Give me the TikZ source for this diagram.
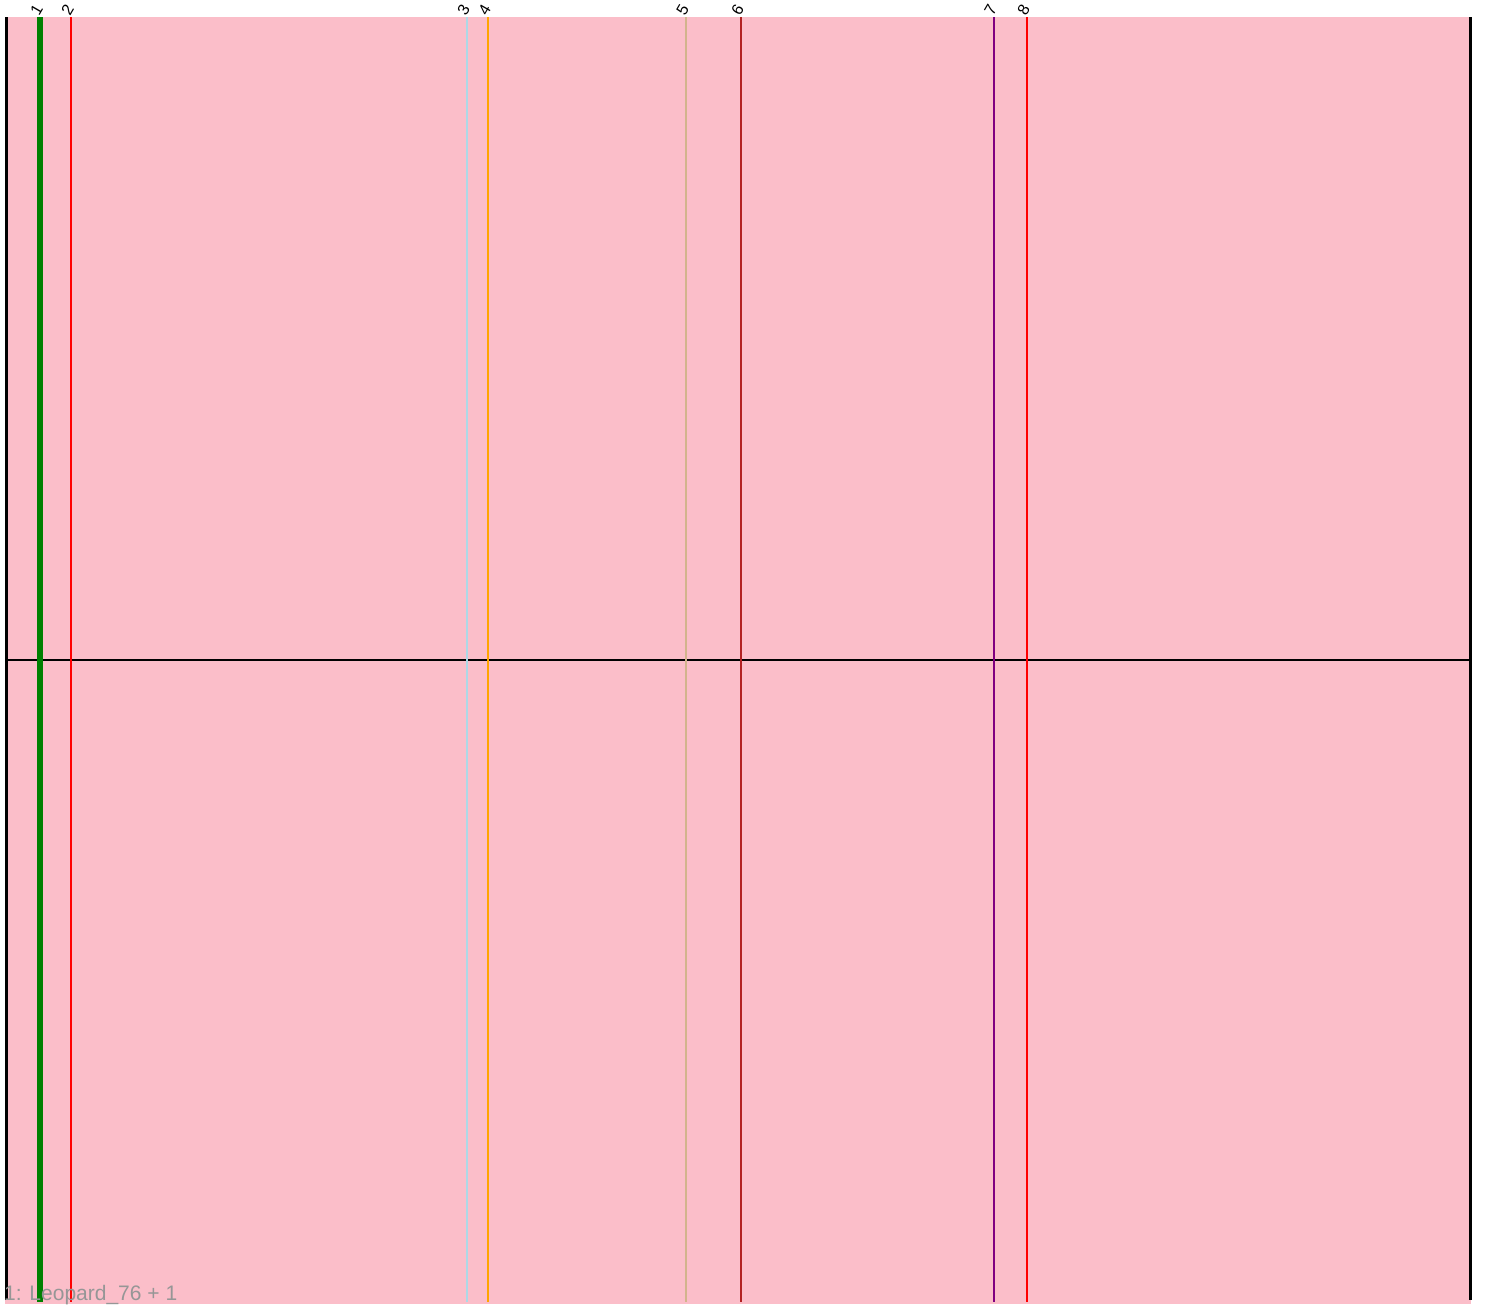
\documentclass[tikz,border=0pt]{standalone}
\usepackage{fontspec}
\setmainfont{Liberation Sans}
\definecolor{bgpink}{RGB}{251,190,201}
\definecolor{lgreen}{RGB}{0,128,0}
\definecolor{lred}{RGB}{255,0,0}
\definecolor{lblue}{RGB}{173,216,230}
\definecolor{lorange}{RGB}{255,165,0}
\definecolor{ltan}{RGB}{210,180,140}
\definecolor{lbrown}{RGB}{178,34,34}
\definecolor{lpurple}{RGB}{128,0,128}
\definecolor{capgray}{RGB}{150,150,150}
\tikzset{
  lbl/.style={rotate=60,anchor=base west,inner sep=0pt,font=\fontsize{16}{16}\selectfont},
}
\begin{document}
\begin{tikzpicture}[x=1pt,y=-1pt]
\useasboundingbox (0,0) rectangle (1486,1304);
\fill[bgpink] (5,17) rectangle (1471,1304);
\coordinate (bl) at (6,17);
\coordinate (bl2) at (6,1300);
\coordinate (br) at (1470,17);
\coordinate (br2) at (1470,1300);
\draw[line width=3pt] (bl) -- (bl2);
\draw[line width=3pt] (br) -- (br2);
\coordinate (hl) at (6,660);
\coordinate (hr) at (1470,660);
\draw[line width=2.8pt] (hl) -- (hr);
\foreach \n/\x/\c/\w in {1/40/lgreen/6,2/71/lred/2.8,3/467/lblue/2.8,4/488/lorange/2.8,5/686/ltan/2.8,6/741/lbrown/2.8,7/994/lpurple/2.8,8/1027/lred/2.8}{
  \coordinate (t\n) at (\x,17);
  \coordinate (b\n) at (\x,1302);
  \draw[\c,line width=\w pt] (t\n) -- (b\n);
  \node[lbl] (l\n) at (\x-1,17) {\n};
}
\node[anchor=base west,inner sep=0pt,text=capgray,font=\fontsize{21}{21}\selectfont] (cap) at (4,1300) {1: Leopard\_76 + 1};
\end{tikzpicture}
\end{document}
